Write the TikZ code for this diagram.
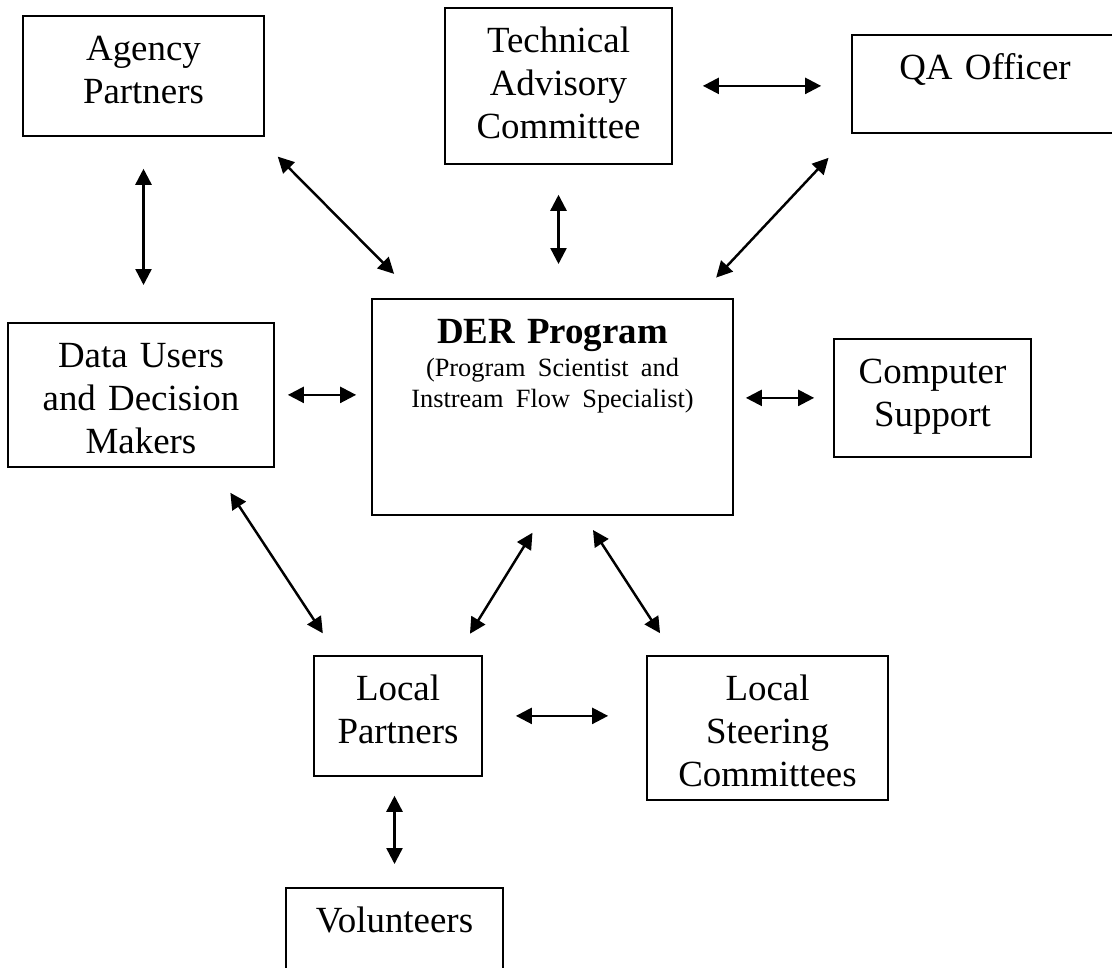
\documentclass[tikz,border=0pt]{standalone}
\usepackage{fontspec}
\setmainfont{Liberation Serif}
\usetikzlibrary{arrows.meta}

\newcommand{\boxfont}{\fontsize{10.5}{12.24}\selectfont}
\newcommand{\notefont}{\fontsize{7.5}{8.8}\selectfont}

\tikzset{
  box/.style={draw, line width=0.5pt, anchor=north, align=center,
    inner sep=0pt, text height=0.45cm, font=\boxfont},
  link/.style={<->, >={Triangle[length=1.6mm, width=1.6mm]}, line width=0.7pt},
}

\begin{document}
\begin{tikzpicture}
    \clip (0,0) rectangle (11.12,-9.67);

    % Top row
    \node[box, text width=2.41cm, text depth=0.75cm] (agency) at (1.435,-0.15) {Agency\\Partners};
    \node[box, text width=2.27cm, text depth=1.11cm] (tech) at (5.585,-0.07) {Technical\\Advisory\\Committee};
    \node[box, text width=2.66cm, text depth=0.53cm] (qa) at (9.85,-0.34) {QA Officer};

    % Middle row
    \node[box, text width=2.66cm, text depth=0.99cm] (data) at (1.41,-3.22) {Data Users\\and Decision\\Makers};
    \node[box, text width=3.61cm, text depth=1.71cm] (der) at (5.525,-2.98)
        {\textbf{DER Program}\\[0.6pt]\notefont (Program Scientist and\\[-3.4pt]Instream Flow Specialist)};
    \node[box, text width=1.97cm, text depth=0.73cm] (computer) at (9.325,-3.38) {Computer\\Support};

    % Bottom rows
    \node[box, text width=1.68cm, text depth=0.75cm] (local) at (3.98,-6.55) {Local\\Partners};
    \node[box, text width=2.41cm, text depth=0.99cm] (steering) at (7.675,-6.55) {Local\\Steering\\Committees};
    \node[box, text width=2.17cm, text depth=0.75cm] (volunteers) at (3.945,-8.87) {Volunteers};

    % Two-way links
    \draw[link, shorten <=0.32cm, shorten >=0.37cm] (agency.south) -- (agency.south |- data.north);
    \draw[link, shorten <=0.28cm, shorten >=0.34cm] (agency.-28) -- (der.141);
    \draw[link, shorten <=0.30cm, shorten >=0.34cm] (tech.south) -- (tech.south |- der.north);
    \draw[link, shorten <=0.30cm, shorten >=0.30cm] (tech.east) -- (tech.east -| qa.west);
    \draw[link, shorten <=0.33cm, shorten >=0.28cm] (qa.south west) -- (der.37);
    \draw[link, shorten <=0.13cm, shorten >=0.15cm] (data.east) -- (data.east -| der.west);
    \draw[link, shorten <=0.12cm, shorten >=0.19cm] (der.east |- computer.west) -- (computer.west);
    \draw[link, shorten <=0.30cm, shorten >=0.26cm] (data.-45) -- (local.135);
    \draw[link, shorten <=0.20cm, shorten >=0.25cm] (der.-95) -- (local.46);
    \draw[link, shorten <=0.17cm, shorten >=0.26cm] (der.-74) -- (steering.142);
    \draw[link, shorten <=0.33cm, shorten >=0.38cm] (local.east) -- (local.east -| steering.west);
    \draw[link, shorten <=0.19cm, shorten >=0.23cm] (volunteers.north |- local.south) -- (volunteers.north);
\end{tikzpicture}
\end{document}
